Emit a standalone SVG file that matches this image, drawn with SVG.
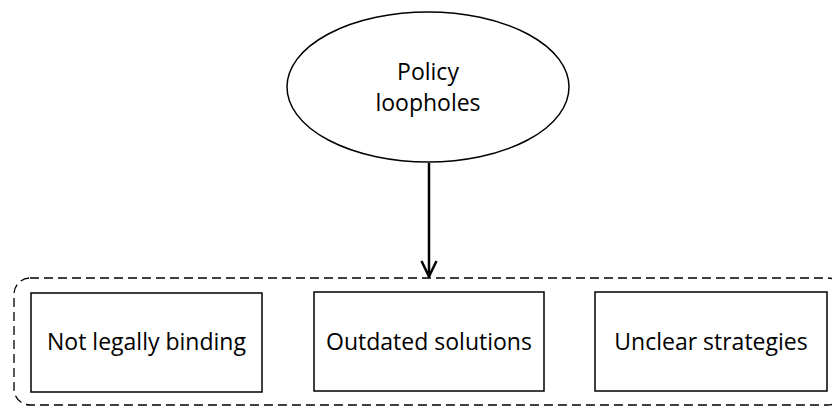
<svg xmlns="http://www.w3.org/2000/svg" width="832" height="407" viewBox="0 0 832 407">
  <style>
    .shape { fill: #ffffff; stroke: #000000; stroke-width: 1.5; }
    .label { font-family: "Open Sans", "Liberation Sans", sans-serif; font-size: 23px; fill: #000000; text-anchor: middle; }
    .group { fill: none; stroke: #000000; stroke-width: 1.3; stroke-dasharray: 9 5; }
    .link { stroke: #000000; stroke-width: 2.5; fill: none; }
  </style>
  <defs>
    <marker id="arrowhead" viewBox="0 0 18 18" refX="17" refY="9" markerWidth="18" markerHeight="18" orient="auto" markerUnits="userSpaceOnUse">
      <path d="M1 1.5 L16.5 9 L1 16.5" fill="none" stroke="#000000" stroke-width="2.5" stroke-linejoin="miter"/>
    </marker>
  </defs>

  <rect width="832" height="407" fill="#ffffff"/>

  <!-- dashed container around the three causes -->
  <rect class="group" x="14" y="278" width="830" height="127" rx="16" ry="16"/>

  <g id="connectors">
    <line class="link" x1="429" y1="163" x2="429" y2="277" marker-end="url(#arrowhead)"/>
  </g>

  <g id="policy-loopholes">
    <ellipse class="shape" cx="428" cy="87" rx="141" ry="75"/>
    <text class="label" x="428" y="80">Policy</text>
    <text class="label" x="428" y="111">loopholes</text>
  </g>

  <g id="not-legally-binding">
    <rect class="shape" x="31" y="293" width="231" height="99"/>
    <text class="label" x="146.5" y="350">Not legally binding</text>
  </g>

  <g id="outdated-solutions">
    <rect class="shape" x="314" y="292" width="230" height="99"/>
    <text class="label" x="429" y="350">Outdated solutions</text>
  </g>

  <g id="unclear-strategies">
    <rect class="shape" x="595" y="292" width="232" height="99"/>
    <text class="label" x="711" y="350">Unclear strategies</text>
  </g>
</svg>
